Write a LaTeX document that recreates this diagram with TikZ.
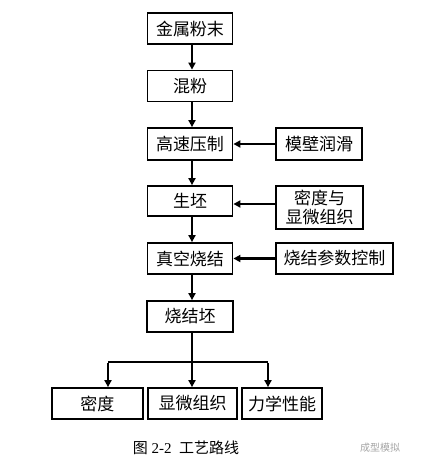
\documentclass[tikz,border=0pt]{standalone}
\usepackage{fontspec}
\setmainfont{Liberation Serif}
\newfontfamily\cjk{Noto Sans CJK SC}
\usetikzlibrary{arrows.meta,calc}
\begin{document}
\begin{tikzpicture}[x=1pt,y=-1pt,
  box/.style={draw=black,line width=1.8pt,inner sep=0pt,minimum height=31pt,
    font=\cjk\fontsize{17}{20}\selectfont,align=center},
  arr/.style={line width=2.4pt,-{Triangle[length=7pt,width=7pt]}},
  ln/.style={line width=2.4pt}]
\useasboundingbox[fill=white] (0,0) rectangle (426,467);
\node[box,minimum width=85pt] (a) at (190,28.5) {金属粉末};
\node[box,minimum width=85pt] (b) at (190,86) {混粉};
\node[box,minimum width=85pt,minimum height=32pt] (c) at (190,144) {高速压制};
\node[box,minimum width=85pt,minimum height=30pt] (d) at (190,201) {生坯};
\node[box,minimum width=85pt] (e) at (190,258.5) {真空烧结};
\node[box,minimum width=86pt] (f) at (190,316.5) {烧结坯};
\node[box,minimum width=86pt,minimum height=32pt] (g) at (319,144) {模壁润滑};
\node[box,minimum width=87pt,minimum height=43pt,font=\cjk\fontsize{17}{19}\selectfont] (h) at (319.5,207.5) {密度与\\显微组织};
\node[box,minimum width=117pt] (i) at (334.5,258.5) {烧结参数控制};
\node[box,minimum width=91pt] (j) at (97.5,403.5) {密度};
\node[box,minimum width=89pt] (k) at (192.5,403.5) {显微组织};
\node[box,minimum width=80pt] (l) at (282,403.5) {力学性能};
\coordinate (col) at (192,0);
\draw[arr] (a.south -| col) -- (b.north -| col);
\draw[arr] (b.south -| col) -- (c.north -| col);
\draw[arr] (c.south -| col) -- (d.north -| col);
\draw[arr] (d.south -| col) -- (e.north -| col);
\draw[arr] (e.south -| col) -- (f.north -| col);
\draw[arr] (g.west |- c) -- (c.east);
\draw[arr] ($(h.west |- d)+(0,3)$) -- ($(d.east)+(0,3)$);
\draw[arr] (i.west |- e) -- (e.east);
\coordinate (jn) at (192,362);
\coordinate (jl) at (108,362);
\coordinate (jr) at (268,362);
\draw[arr] (f.south -| col) -- (k.north -| col);
\draw[ln] (jl) -- (jr);
\draw[arr] ([yshift=-1.2pt]jl) -- (jl |- j.north);
\draw[arr] ([yshift=-1.2pt]jr) -- (jr |- l.north);
\node[font=\fontsize{15}{18}\selectfont,anchor=center] (cap) at (186,448) {{\cjk 图} 2-2\ \ {\cjk 工艺路线}};
\node[font=\cjk\fontsize{10}{12}\selectfont,text=black!35] (wm) at (380,448) {成型模拟};
\end{tikzpicture}
\end{document}
